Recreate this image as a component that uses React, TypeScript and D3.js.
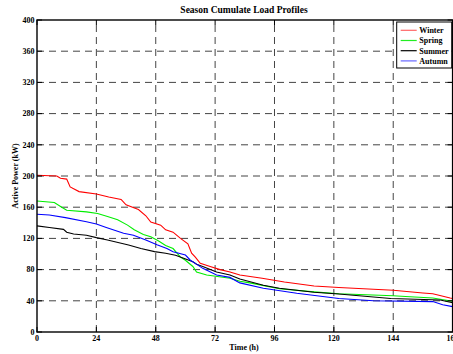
import React from "react";
import * as d3 from "d3";

const title = "Season Cumulate Load Profiles";
const xLabel = "Time (h)";
const yLabel = "Active Power (kW)";
const xTicks = [0, 24, 48, 72, 96, 120, 144, 168];
const yTicks = [0, 40, 80, 120, 160, 200, 240, 280, 320, 360, 400];
const seriesNames = ["Winter", "Spring", "Summer", "Autumn"];
const seriesColors = ["#ff0000", "#00ee00", "#000000", "#0000ff"];
const legendColors = ["#ff6666", "#22ee22", "#000000", "#6666ff"];

const winter: [number, number][] = [
  [0, 201], [8, 200], [9.5, 197], [12, 196], [13.4, 186], [17, 180], [24, 177],
  [29, 173], [34, 170], [36, 163], [41, 157], [44, 149], [46, 141], [50, 137],
  [52, 131], [55, 128], [58, 120], [61, 113], [62.5, 101], [64, 96], [66, 88],
  [70, 84], [74, 80], [78, 77], [82, 73], [91, 69], [100, 64], [112, 59],
  [122, 57], [144, 53.5], [156, 50], [160, 49], [167, 43.5], [168, 43],
];
const spring: [number, number][] = [
  [0, 168], [7, 166], [10, 160], [12, 156], [20, 154], [24.5, 152], [28.5, 148],
  [32.6, 144], [36.6, 137], [39.3, 131], [43, 125], [46, 122], [49, 117],
  [52, 111], [55, 107], [58, 96], [60, 92], [63, 84], [64.5, 77], [68.6, 73],
  [78, 69], [82, 65], [86, 63], [98, 55.5], [112, 51.5], [122, 49], [144, 46.5],
  [149, 45.5], [160, 43.6], [168, 39.5],
];
const summer: [number, number][] = [
  [0, 136], [5, 134], [10.7, 131.6], [12, 128], [14.8, 125.6], [20, 124],
  [24, 121], [28.5, 118], [37, 111.5], [42, 107], [47.5, 103], [52, 101],
  [56, 98.5], [59, 95], [63, 90], [64.5, 87], [67, 84], [72.6, 77], [78, 73],
  [82, 68], [91.5, 60], [98, 56], [112, 51], [122, 48.7], [143, 43], [163, 41],
  [168, 37.5],
];
const autumn: [number, number][] = [
  [0, 151], [5, 150], [11.5, 146.6], [20, 141.4], [24, 138.5], [28, 134],
  [35, 126.5], [39, 124], [44, 118], [48.5, 112], [52.5, 107], [55, 103],
  [60, 98.7], [62, 92], [64, 88], [67, 81.6], [72.6, 73], [78, 70], [82, 63],
  [91.5, 56], [105, 49.6], [122, 43], [136, 40], [160, 39], [164, 35],
  [168, 32.5],
];
const seriesData = [winter, spring, summer, autumn];

const W = 453;
const H = 354;
const left = 37;
const right = 452.6;
const top = 20;
const bottom = 332;
const font = "'Liberation Serif', 'Times New Roman', serif";

export default function App() {
  const x = d3.scaleLinear().domain([0, 168]).range([left, right]);
  const y = d3.scaleLinear().domain([0, 400]).range([bottom, top]);
  const line = d3
    .line<[number, number]>()
    .x((d) => x(d[0]))
    .y((d) => y(d[1]));

  const legX = 396.7;
  const legY = 22;
  const legW = 55;
  const legH = 46;

  return (
    <svg
      width={W}
      height={H}
      style={{ position: "absolute", left: 0, top: 0, background: "#fff" }}
      fontFamily={font}
    >
      <rect x={0} y={0} width={W} height={H} fill="#fff" />
      {/* grid */}
      <g stroke="#444" strokeWidth={1} strokeDasharray="7,5">
        {xTicks.slice(1, -1).map((t) => (
          <line key={"gx" + t} x1={x(t)} x2={x(t)} y1={bottom} y2={top} />
        ))}
        {yTicks.slice(1, -1).map((t) => (
          <line key={"gy" + t} x1={left} x2={right} y1={y(t)} y2={y(t)} />
        ))}
      </g>
      {/* series */}
      <g fill="none" strokeWidth={1.1}>
        {seriesData.map((s, i) => (
          <path key={i} d={line(s) || ""} stroke={seriesColors[i]} />
        ))}
      </g>
      {/* ticks */}
      <g stroke="#000" strokeWidth={1}>
        {xTicks.map((t) => (
          <React.Fragment key={"tx" + t}>
            <line x1={x(t)} x2={x(t)} y1={bottom} y2={bottom - 5} />
            <line x1={x(t)} x2={x(t)} y1={top} y2={top + 5} />
          </React.Fragment>
        ))}
        {yTicks.map((t) => (
          <React.Fragment key={"ty" + t}>
            <line x1={left} x2={left + 5} y1={y(t)} y2={y(t)} />
            <line x1={right} x2={right - 5} y1={y(t)} y2={y(t)} />
          </React.Fragment>
        ))}
      </g>
      {/* axes box */}
      <rect
        x={left}
        y={top}
        width={right - left}
        height={bottom - top}
        fill="none"
        stroke="#000"
        strokeWidth={1.4}
      />
      {/* tick labels */}
      <g fontSize={8} fontWeight="bold" fill="#000">
        {xTicks.map((t) => (
          <text key={"lx" + t} x={x(t)} y={340.5} textAnchor="middle">
            {t}
          </text>
        ))}
        {yTicks.map((t) => (
          <text key={"ly" + t} x={left - 2.5} y={y(t) + 2.8} textAnchor="end">
            {t}
          </text>
        ))}
      </g>
      {/* title & axis labels */}
      <text x={244} y={13} textAnchor="middle" fontSize={9.5} fontWeight="bold">
        {title}
      </text>
      <text x={244} y={350} textAnchor="middle" fontSize={8} fontWeight="bold">
        {xLabel}
      </text>
      <text
        transform={`translate(18,${(top + bottom) / 2}) rotate(-90)`}
        textAnchor="middle"
        fontSize={8}
        fontWeight="bold"
      >
        {yLabel}
      </text>
      {/* legend */}
      <rect x={legX} y={legY} width={legW} height={legH} fill="#fff" stroke="#000" strokeWidth={1} />
      {seriesNames.map((n, i) => {
        const ly = legY + 8.3 + i * 10.2;
        return (
          <g key={n}>
            <line x1={legX + 4} x2={legX + 20} y1={ly} y2={ly} stroke={legendColors[i]} strokeWidth={1.2} />
            <text x={legX + 22.6} y={ly + 2.8} fontSize={8} fontWeight="bold">
              {n}
            </text>
          </g>
        );
      })}
    </svg>
  );
}
